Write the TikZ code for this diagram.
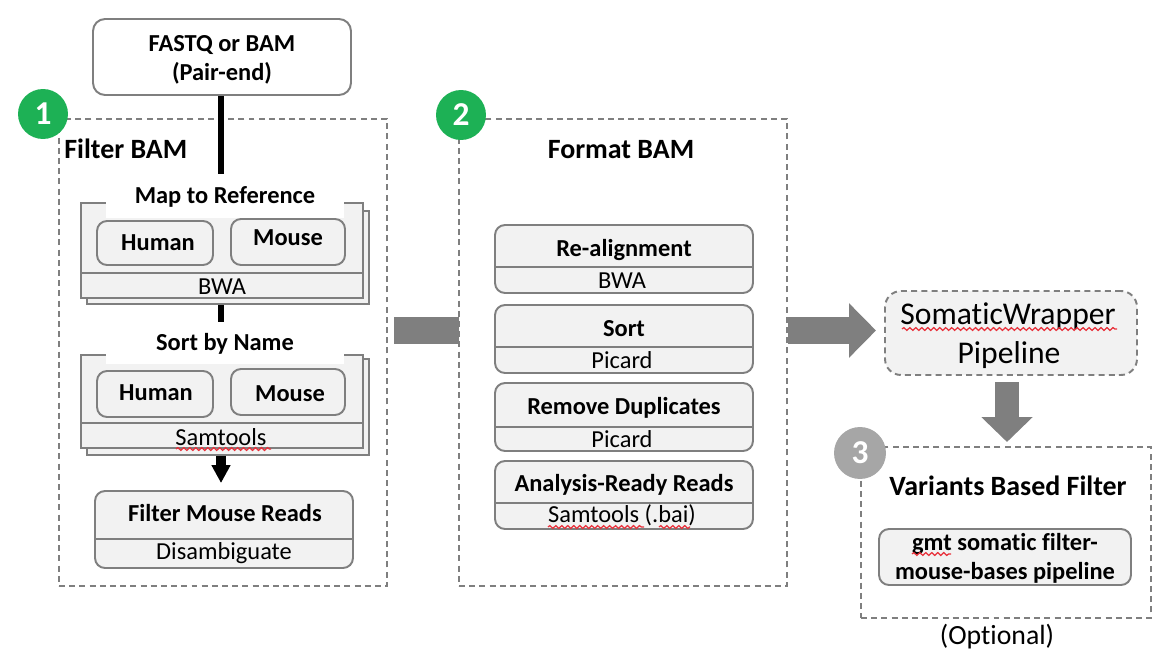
\documentclass[tikz,border=0pt]{standalone}
\usepackage{fontspec}
\setmainfont[Ligatures=CommonOff]{Carlito}
\usetikzlibrary{arrows.meta,decorations.pathmorphing}
\definecolor{linegray}{HTML}{7F7F7F}
\definecolor{panelgray}{HTML}{F2F2F2}
\definecolor{badgegreen}{HTML}{1DB155}
\definecolor{badgegray}{HTML}{A6A6A6}
\definecolor{squigglered}{HTML}{E8303A}
\tikzset{
  headtext/.style={font=\fontsize{13.9}{16.5}\selectfont\bfseries, align=center, inner sep=0pt},
  tooltext/.style={font=\fontsize{13.9}{16.5}\selectfont, align=center, inner sep=0pt},
  titletext/.style={font=\fontsize{15.9}{19}\selectfont\bfseries, inner sep=0pt},
  panel/.style={draw=linegray, fill=panelgray, line width=1.1pt, rounded corners=0.2cm, inner sep=0pt},
  sheet/.style={draw=linegray, fill=panelgray, line width=1.1pt, inner sep=0pt},
  rowline/.style={draw=linegray, line width=1.1pt},
  stagebox/.style={draw=linegray, line width=1.1pt, dash pattern=on 3.4pt off 2.4pt, inner sep=0pt},
  notch/.style={fill=white, minimum width=4.76cm, inner sep=0pt},
  badge/.style={circle, text=white, minimum size=1cm, font=\fontsize{19}{22}\selectfont\bfseries, inner sep=0pt},
  squiggle/.style={draw=squigglered, line width=0.7pt, decorate, decoration={snake, amplitude=0.8pt, segment length=3.4pt}},
  thinlink/.style={line width=0.12cm},
}
\begin{document}
\begin{tikzpicture}[x=0.02cm, y=-0.02cm]
    \useasboundingbox (0,0) rectangle (1174,666);

    % Input
    \node[panel, fill=white, rounded corners=0.24cm, minimum width=5.16cm, minimum height=1.52cm] (source) at (222,57) {};
    \node[headtext] (sourcetext) at (222,60) {FASTQ or BAM\\(Pair-end)};
    \coordinate (spine) at (221,0);

    % Stage 1
    \node[stagebox, minimum width=6.56cm, minimum height=9.34cm] (filterstage) at (223,352.5) {};
    \node[badge, fill=badgegreen] (badgeone) at (43,114) {1};
    \node[titletext, anchor=west] (filtertitle) at (64,149) {Filter BAM};

    \node[sheet, minimum width=5.64cm, minimum height=1.86cm] (mapback) at (228,257.5) {};
    \node[sheet, minimum width=5.64cm, minimum height=1.9cm] (mapfront) at (222,250.5) {};
    \draw[rowline] (81,273) -- (363,273);
    \node[notch, minimum height=0.88cm] (maptitlebg) at (225,196) {};
    \node[headtext] (maptitle) at (225,197) {Map to Reference};
    \node[panel, minimum width=2.32cm, minimum height=0.88cm] (maphuman) at (155,243) {};
    \node[headtext] (maphumantext) at (158,243) {Human};
    \node[panel, minimum width=2.28cm, minimum height=0.92cm] (mapmouse) at (288,242) {};
    \node[headtext] (mapmousetext) at (288,238) {Mouse};
    \node[tooltext] (maptool) at (222,287) {BWA};

    \node[sheet, minimum width=5.64cm, minimum height=1.92cm] (sortback) at (228,407) {};
    \node[sheet, minimum width=5.64cm, minimum height=1.86cm] (sortfront) at (222,401.5) {};
    \draw[rowline] (81,423) -- (363,423);
    \node[notch, minimum height=0.84cm] (sorttitlebg) at (225,343) {};
    \node[headtext] (sorttitle) at (225,344) {Sort by Name};
    \node[panel, minimum width=2.32cm, minimum height=0.92cm] (sorthuman) at (155,394) {};
    \node[headtext] (sorthumantext) at (156,393) {Human};
    \node[panel, minimum width=2.28cm, minimum height=0.92cm] (sortmouse) at (288,392) {};
    \node[headtext] (sortmousetext) at (290,394) {Mouse};
    \node[tooltext] (sorttool) at (221,437) {Samtools};
    \draw[squiggle] (176,449) -- (271,449);

    \node[panel, minimum width=5.16cm, minimum height=1.54cm] (mousebox) at (224,529.5) {};
    \draw[rowline] (95,539) -- (353,539);
    \node[headtext] (mousetitle) at (225,513) {Filter Mouse Reads};
    \node[tooltext] (mousetool) at (224,553) {Disambiguate};

    % Black connectors
    \draw[thinlink] (spine |- source.south) -- (spine |- maptitlebg.north);
    \draw[thinlink] (spine |- mapback.south) -- (spine |- sorttitlebg.north);
    \draw[line width=0.2cm, -{Triangle[length=0.36cm, width=0.36cm]}, shorten >=0.14cm] (spine |- sortback.south) -- (spine |- mousebox.north);

    % Grey link, dashes of stage 2 go over it
    \coordinate (linkstart) at (394,330.5);
    \coordinate (linkend) at (459,330.5);
    \coordinate (wrapin) at (876,330.5);
    \coordinate (wrapout) at (1007,382);
    \coordinate (variantin) at (1007,442);
    \draw[line width=0.54cm, linegray] (linkstart) -- (linkend);

    % Stage 2
    \node[stagebox, minimum width=6.56cm, minimum height=9.34cm] (formatstage) at (623,352.5) {};
    \node[badge, fill=badgegreen] (badgetwo) at (461,115) {2};
    \node[titletext] (formattitle) at (621,150) {Format BAM};

    \node[panel, minimum width=5.16cm, minimum height=1.36cm] (realign) at (624,259) {};
    \draw[rowline] (495,267) -- (753,267);
    \node[headtext] (realigntitle) at (624,250) {Re-alignment};
    \node[tooltext] (realigntool) at (622,281) {BWA};

    \node[panel, minimum width=5.16cm, minimum height=1.36cm] (sortbox) at (624,339) {};
    \draw[rowline] (495,347) -- (753,347);
    \node[headtext] (sortboxtitle) at (624,329) {Sort};
    \node[tooltext] (sortboxtool) at (622,360) {Picard};

    \node[panel, minimum width=5.16cm, minimum height=1.36cm] (dupbox) at (624,417) {};
    \draw[rowline] (495,427) -- (753,427);
    \node[headtext] (dupboxtitle) at (624,408) {Remove Duplicates};
    \node[tooltext] (dupboxtool) at (622,439) {Picard};

    \node[panel, minimum width=5.16cm, minimum height=1.36cm] (readybox) at (624,495) {};
    \draw[rowline] (495,503) -- (753,503);
    \node[headtext] (readyboxtitle) at (624,485) {Analysis-Ready Reads};
    \node[tooltext] (readyboxtool) at (622,515) {Samtools (.bai)};
    \draw[squiggle] (548,527) -- (644,527);
    \draw[squiggle] (659,527) -- (690,527);

    % Wrapper
    \node[panel, dash pattern=on 3.4pt off 2.4pt, rounded corners=0.32cm, minimum width=5.04cm, minimum height=1.68cm] (wrapper) at (1011,333) {};
    \node[font=\fontsize{18}{22}\selectfont, inner sep=0pt] (wrappertop) at (1008,316) {SomaticWrapper};
    \node[font=\fontsize{18}{22}\selectfont, inner sep=0pt] (wrapperbottom) at (1009,355) {Pipeline};
    \draw[squiggle] (902,329) -- (1117,329);

    % Grey arrows
    \draw[line width=0.54cm, linegray, -{Triangle[length=0.54cm, width=1.06cm]}] (formatstage.east |- linkstart) -- (wrapin);
    \draw[line width=0.48cm, linegray, -{Triangle[length=0.5cm, width=1cm]}] (wrapout) -- (variantin);

    % Stage 3
    \node[stagebox, minimum width=5.8cm, minimum height=3.42cm] (variantstage) at (1006,532.5) {};
    \node[badge, fill=badgegray, minimum size=1.04cm] (badgethree) at (860,453) {3};
    \node[titletext] (varianttitle) at (1008,486) {Variants Based Filter};
    \node[panel, minimum width=5.04cm, minimum height=1.12cm] (gmtbox) at (1005,557) {};
    \node[headtext] (gmttext) at (1005,558) {gmt somatic filter-\\mouse-bases pipeline};
    \draw[squiggle] (912,554) -- (951,554);
    \node[tooltext, font=\fontsize{15.8}{19}\selectfont] (optional) at (997,637) {(Optional)};
\end{tikzpicture}
\end{document}
